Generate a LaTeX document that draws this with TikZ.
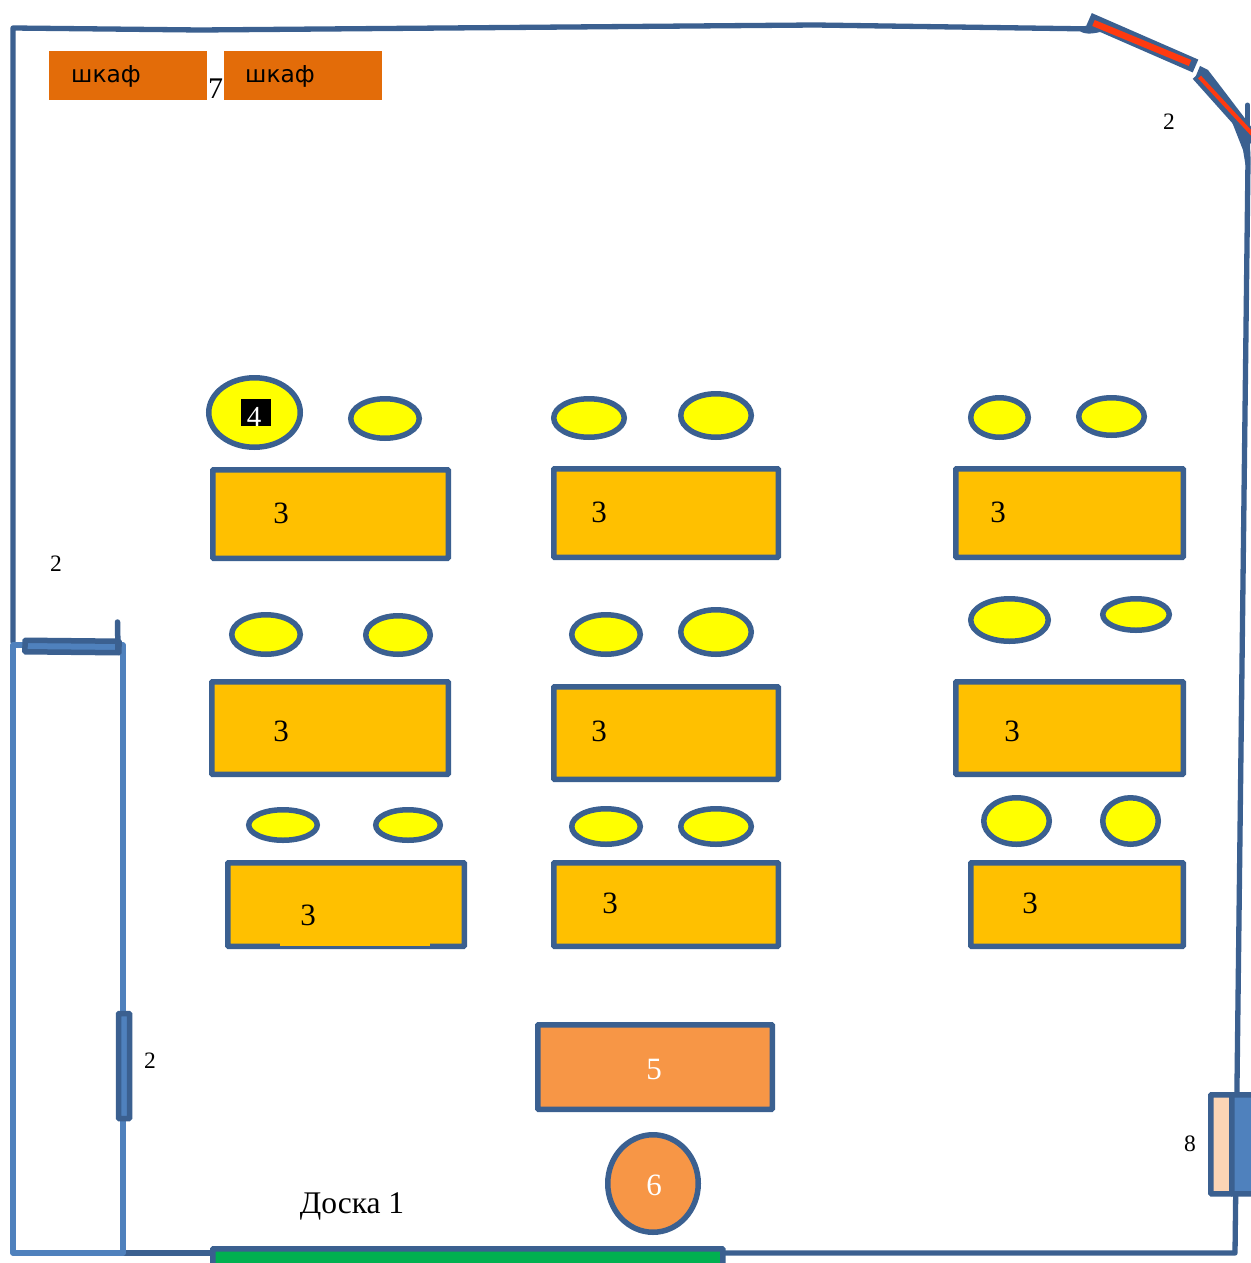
\documentclass[tikz,border=0pt]{standalone}
\usepackage{fontspec}
\setmainfont{Liberation Serif}
\newfontfamily\cabfont{DejaVu Sans}
\usetikzlibrary{shapes.geometric}
\definecolor{wall}{HTML}{3B6090}
\definecolor{lightwall}{HTML}{4F81BD}
\definecolor{tablefill}{HTML}{FFC000}
\definecolor{teachfill}{HTML}{F79646}
\definecolor{cabfill}{HTML}{E36C09}
\definecolor{boardfill}{HTML}{00B050}
\definecolor{peach}{HTML}{FCD5B5}
\definecolor{doorred}{HTML}{FF3A10}
\definecolor{seatfill}{HTML}{FFFF00}
\tikzset{
  wallline/.style={draw=wall,line width=5.3pt,line join=round,line cap=round},
  roomline/.style={draw=lightwall,line width=5.5pt,line join=round},
  boxshape/.style={rectangle,draw=wall,line width=5.5pt,rounded corners=0.8pt,inner sep=0pt},
  desk/.style={boxshape,fill=tablefill},
  seat/.style={ellipse,draw=wall,line width=5.5pt,fill=seatfill,inner sep=0pt},
  cabinet/.style={rectangle,fill=cabfill,inner sep=0pt,minimum width=158pt,minimum height=49pt},
  lab/.style={inner sep=0pt,font=\fontsize{31}{31}\selectfont},
  smalllab/.style={inner sep=0pt,font=\fontsize{23.5}{24}\selectfont},
  cablab/.style={inner sep=0pt,anchor=west,font=\cabfont\fontsize{23.3}{23}\selectfont},
}
\newcommand{\mkbox}[6]{% style,name,x1,y1,x2,y2 (outer extents)
  \pgfmathsetmacro{\mkw}{#5-#3-5.5}\pgfmathsetmacro{\mkh}{#6-#4-5.5}
  \pgfmathsetmacro{\mkx}{(#3+#5)/2}\pgfmathsetmacro{\mky}{(#4+#6)/2}
  \node[#1,minimum width=\mkw pt,minimum height=\mkh pt] (#2) at (\mkx,\mky) {};}
\begin{document}
\begin{tikzpicture}[x=1pt,y=-1pt]
\useasboundingbox (0,0) rectangle (1250,1263);
\path[fill=white] (0,0) rectangle (1250,1263);
% named wall points
\coordinate (wa) at (13,642);
\coordinate (wb) at (13,28);
\coordinate (wc) at (200,30);
\coordinate (wd) at (815,25);
\coordinate (we) at (1095,29);
\coordinate (rt) at (1247.5,105);
\coordinate (rb) at (1247.5,150);
\coordinate (rc) at (1235,1253);
\coordinate (bd) at (724,1253);
\coordinate (be) at (210,1253);
\coordinate (ra) at (123,1253);
\coordinate (rd) at (13,1253);
\coordinate (re) at (13,645);
\coordinate (rf) at (123,645);
% walls
\draw[wallline] (wa) -- (wb) -- (wc) -- (wd) -- (we);
\fill[wall] (1078,29) .. controls (1082,35) and (1092,34) .. (1100,32) -- (1098,26) -- (1085,26) -- cycle;
\draw[wallline] (rb) -- (1248,160) -- (rc) -- (bd);
\draw[wallline] (be) -- (ra);
\draw[roomline] (ra) -- (rd) -- (re) -- (rf) -- cycle;
% curved corner
\fill[wall] (1200,66) -- (1208,70) -- (1218,83) -- (1250,125) -- (1250,165) -- (1245.5,165) -- (1243,150) -- (1232,122) -- (1195,78) -- cycle;
\draw[wall,line width=5pt,line cap=round] (rt) -- (rb);
% top doors
\coordinate (d1a) at (1089,19.5);
\coordinate (d1b) at (1195.5,66);
\draw[wall,line width=14pt,line cap=butt,line join=round] (d1a) -- (d1b);
\coordinate (r1a) at (1093.5,23);
\coordinate (r1b) at (1190,63);
\draw[doorred,line width=6.5pt] (r1a) -- (r1b);
\draw[white,line width=1.5pt] (1199,63) -- (1193.5,74);
\coordinate (d2a) at (1197,75);
\coordinate (d2b) at (1256,141);
\draw[wall,line width=11.5pt,line cap=butt] (d2a) -- (d2b);
\coordinate (r2a) at (1199.5,77);
\coordinate (r2b) at (1254,136);
\draw[doorred,line width=4pt] (r2a) -- (r2b);
% left doors
\node[boxshape,fill=lightwall,minimum width=94pt,minimum height=11.5pt,rotate=-0.6] (dleft) at (72,646.5) {};
\coordinate (st1) at (117.5,622);
\coordinate (st2) at (118,650);
\draw[wall,line width=5.5pt,line cap=round] (st1) -- (st2);
\node[boxshape,fill=lightwall,minimum width=11pt,minimum height=105pt] (door) at (124,1066) {};
% board
\node[boxshape,fill=boardfill,minimum width=510pt,minimum height=40pt,anchor=north west] (board) at (210,1246) {};
% cabinets
\node[cabinet] (cab1) at (128,75.5) {};
\node[cabinet] (cab2) at (303,75.5) {};
\node[cablab] (cabt1) at (71,76) {шкаф};
\node[cablab] (cabt2) at (245,76) {шкаф};
\node[lab,font=\fontsize{30}{30}\selectfont] (seven) at (215.5,89) {7};
% desks
\mkbox{desk}{t1}{210}{467}{451}{561}
\mkbox{desk}{t2}{551}{466}{781}{560}
\mkbox{desk}{t3}{953}{466}{1186}{560}
\mkbox{desk}{t4}{209}{679}{451}{777}
\mkbox{desk}{t5}{551}{684}{781}{782}
\mkbox{desk}{t6}{953}{679}{1186}{777}
\mkbox{desk}{t7}{225}{860}{467}{949}
\mkbox{desk}{t8}{551}{860}{781}{949}
\mkbox{desk}{t9}{968}{860}{1186}{949}
\path[fill=tablefill] (280,942) rectangle (430,946);
% seats
\mkbox{seat}{s1}{206}{375}{303}{450}
\mkbox{seat}{s2}{348}{396}{422}{441}
\mkbox{seat}{s3}{551}{396}{627}{440}
\mkbox{seat}{s4}{678}{391}{754}{440}
\mkbox{seat}{s5}{968}{395}{1031}{440}
\mkbox{seat}{s6}{1076}{395}{1147}{438}
\mkbox{seat}{s7}{229}{612}{303}{657}
\mkbox{seat}{s8}{363}{613}{433}{657}
\mkbox{seat}{s9}{569}{612}{643}{657}
\mkbox{seat}{s10}{678}{607}{754}{657}
\mkbox{seat}{s11}{968}{596}{1051}{644}
\mkbox{seat}{s12}{1100}{596}{1172}{633}
\mkbox{seat}{s13}{246}{807}{320}{843}
\mkbox{seat}{s14}{373}{807}{443}{843}
\mkbox{seat}{s15}{569}{806}{643}{847}
\mkbox{seat}{s16}{678}{806}{754}{847}
\mkbox{seat}{s17}{981}{795}{1052}{847}
\mkbox{seat}{s18}{1100}{795}{1161}{847}
% teacher
\mkbox{boxshape,fill=teachfill}{teach}{535}{1022}{775}{1112}
\mkbox{boxshape,ellipse,fill=teachfill}{stool}{605}{1132}{701}{1235}
% box 8
\node[boxshape,fill=peach,minimum width=21pt,minimum height=99pt,anchor=north west] (b8a) at (1208,1092) {};
\node[boxshape,fill=lightwall,minimum width=30pt,minimum height=99pt,anchor=north west] (b8b) at (1229,1092) {};
% labels
\node[rectangle,fill=black,minimum width=30pt,minimum height=27pt,inner sep=0pt] (sq) at (256,412.5) {};
\node[lab,text=white,font=\fontsize{29}{29}\selectfont] (four) at (254,417) {4};
\node[lab] (n1) at (281,513) {3};
\node[lab] (n2) at (599,512) {3};
\node[lab] (n3) at (998,512) {3};
\node[lab] (n4) at (281,731) {3};
\node[lab] (n5) at (599,731) {3};
\node[lab] (n6) at (1012,731) {3};
\node[lab] (n7) at (308,915) {3};
\node[lab] (n8) at (610,903) {3};
\node[lab] (n9) at (1030,903) {3};
\node[lab,text=white] (n10) at (654,1069) {5};
\node[lab,text=white] (n11) at (654,1185) {6};
\node[lab,font=\fontsize{31.5}{31}\selectfont] (dsk) at (352,1206) {Доска 1};
\node[smalllab] (l1) at (1169,122) {2};
\node[smalllab] (l2) at (56,564) {2};
\node[smalllab] (l3) at (150,1061) {2};
\node[smalllab] (l4) at (1190,1144) {8};
\end{tikzpicture}
\end{document}
